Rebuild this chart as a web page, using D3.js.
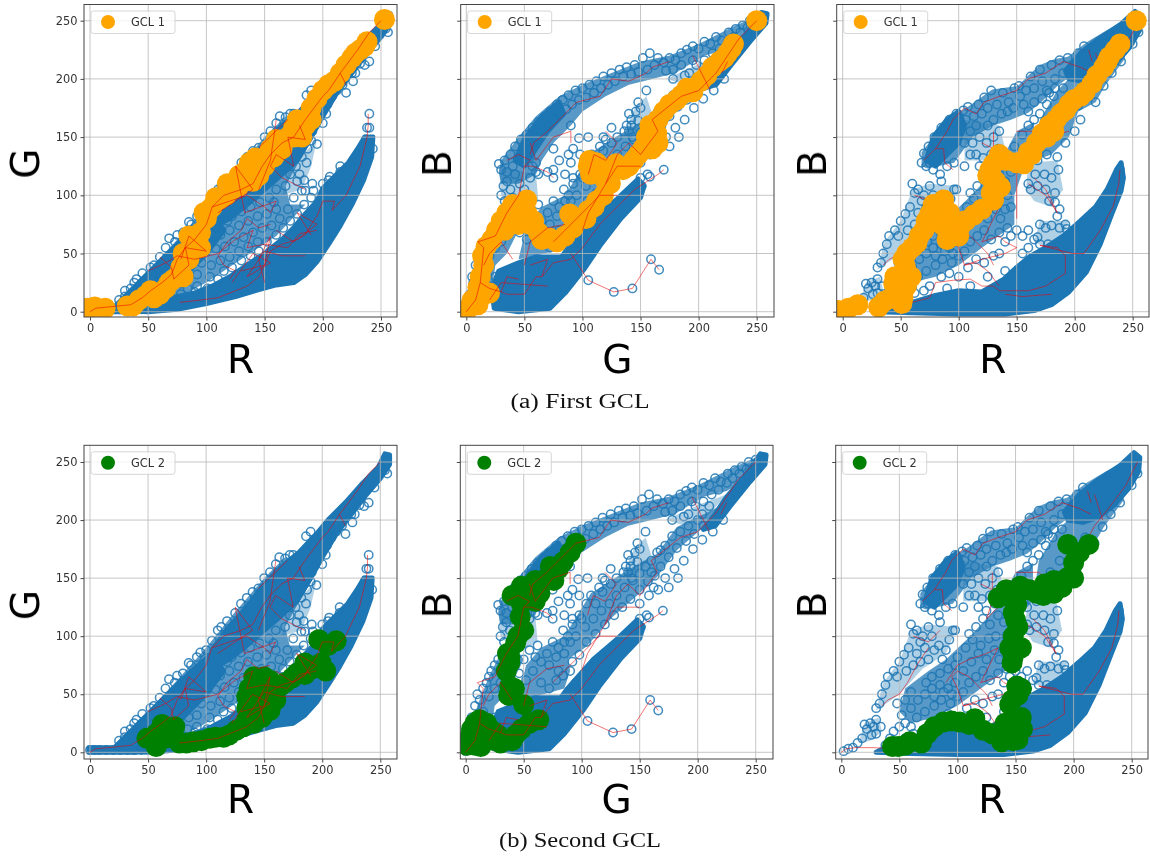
<!DOCTYPE html>
<html><head><meta charset="utf-8">
<script src="https://cdnjs.cloudflare.com/ajax/libs/d3/7.8.5/d3.min.js"></script>
<style>html,body{margin:0;padding:0;background:#fff}svg{display:block}</style></head>
<body><svg id="c" width="1150" height="856"></svg>
<script>
const tickValues=[0,50,100,150,200,250];
const captions=["(a) First GCL","(b) Second GCL"];
const denseRG=[
[[105,88],[120,108],[135,125],[150,145],[165,160],[180,172],[195,188],[205,200],[220,215],[235,232],[248,245],[254,257],[258,256],[258,248],[250,236],[238,222],[225,205],[212,188],[200,168],[190,150],[178,130],[165,118],[150,105],[135,92],[120,80],[105,72]],
[[28,1],[50,0],[75,2],[100,7],[125,13],[145,19],[160,23],[175,25],[185,32],[195,43],[205,58],[215,74],[225,92],[235,113],[242,133],[243,150],[236,150],[230,140],[222,128],[212,118],[200,106],[195,95],[185,84],[175,72],[165,62],[150,50],[135,40],[120,30],[105,22],[90,16],[70,12],[50,10],[30,6]],
[[22,5],[35,18],[50,33],[62,45],[75,58],[90,72],[105,85],[115,70],[100,50],[85,35],[72,22],[70,12],[50,8]],
[[-1,0],[40,0],[40,4],[-1,4]]];
const denseGB=[
[[72,3],[85,16],[101,36],[116,58],[133,80],[150,98],[153,108],[148,114],[130,97],[110,80],[87,54],[82,47],[60,47],[45,42],[28,35],[22,20],[24,3],[45,0]],
[[215,205],[225,220],[240,237],[254,257],[259,256],[258,248],[245,233],[228,212],[215,195],[205,192]],
[[42,130],[50,148],[65,168],[80,180],[84,170],[70,155],[60,140],[50,125]]];
const denseRB=[
[[30,0],[60,-1],[100,-2],[140,-2],[165,1],[180,6],[195,17],[210,34],[222,58],[232,84],[240,104],[242,115],[240,128],[236,122],[228,105],[218,90],[205,78],[190,65],[175,55],[162,48],[150,38],[139,28],[120,17],[100,18],[80,14],[60,8],[40,5]],
[[192,207],[205,222],[220,234],[240,247],[252,258],[257,254],[256,242],[248,228],[235,213],[222,203],[208,198],[195,200]],
[[72,130],[78,150],[90,165],[100,172],[105,160],[100,145],[90,135],[80,125]]];
const meshRG=[
[[25,7],[50,35],[75,62],[100,90],[120,115],[150,150],[168,168],[180,165],[183,135],[168,108],[172,92],[185,92],[160,65],[130,45],[100,25],[75,12],[50,8]]];
const meshGB=[
[[28,120],[30,130],[45,150],[60,168],[80,185],[100,195],[125,205],[150,215],[175,220],[200,230],[230,245],[255,256],[250,240],[225,225],[205,220],[180,205],[160,200],[140,195],[120,185],[100,172],[90,160],[75,145],[65,130],[60,118],[45,110],[30,110]],
[[85,100],[108,137],[130,151],[150,163],[165,171],[182,194],[205,205],[225,215],[216,203],[196,186],[182,174],[165,151],[150,137],[127,117],[104,91],[88,80]],
[[3,10],[10,40],[20,65],[30,85],[40,95],[50,80],[35,50],[25,40],[22,20],[12,3]],
[[45,45],[52,75],[65,90],[85,100],[90,70],[85,55],[60,48]]];
const meshRB=[
[[68,125],[68,137],[79,151],[94,168],[108,176],[122,186],[129,191],[151,194],[160,203],[170,212],[183,217],[194,219],[211,232],[228,242],[249,252],[235,225],[197,203],[185,194],[171,180],[160,171],[145,165],[130,160],[112,150],[96,128],[73,123]],
[[170,165],[185,190],[200,205],[220,225],[245,235],[243,217],[226,194],[218,180],[203,172],[195,150],[180,135],[165,130]],
[[111,100],[134,125],[150,155],[165,163],[165,130],[155,120],[148,100],[148,75],[120,55],[100,40],[80,30],[60,25],[50,35],[55,55],[75,70],[90,80]]];
// sparse parts of the cloud
const lightRG=[[[165,100],[172,125],[183,135],[195,148],[190,125],[182,105]]];
const lightGB=[[[30,100],[28,125],[60,118],[62,95],[45,85]],[[172,200],[205,215],[225,222],[210,205],[190,195]],[[135,150],[145,175],[155,185],[160,170],[150,155]]];
const lightRB=[[[30,36],[36,60],[50,78],[60,105],[75,110],[100,108],[90,85],[70,72],[50,50]],[[105,130],[105,165],[135,160],[140,140],[125,130]],[[158,105],[160,128],[185,130],[190,105],[180,90],[165,95]],[[165,60],[170,78],[195,78],[190,65],[175,55]],[[15,8],[20,25],[32,30],[35,18],[25,10]]];
const ringsRG=[[78,15],[84,20],[90,17],[78,24],[85,30],[92,32],[103,30],[110,28],[115,35],[122,38],[130,44],[138,48],[145,52],[80,38],[88,42],[96,42],[104,40],[112,44],[120,47],[128,52],[136,56],[144,60],[152,60],[160,66],[166,72],[172,78],[178,84],[184,92],[190,98],[100,52],[108,54],[116,56],[124,60],[132,64],[140,68],[148,72],[156,74],[163,80],[170,88],[112,66],[120,70],[128,74],[136,78],[144,82],[152,84],[160,88],[158,94],[175,98],[182,104],[122,82],[130,86],[138,90],[146,94],[154,98],[160,105],[185,104],[191,110],[200,110],[205,113],[215,125],[186,128],[180,118],[178,112],[184,113],[173,128],[195,144],[190,147],[200,162],[204,178],[208,185],[203,170],[220,188],[226,198],[240,215],[236,212],[228,205],[240,170],[240,158],[238,158],[256,240],[254,243],[145,141],[163,168],[172,170],[100,88],[85,77],[87,75],[73,60],[65,55],[60,47],[52,38],[45,33],[38,25],[30,18],[25,10],[40,28],[55,40],[80,68],[92,82],[110,105],[118,113],[130,128],[150,150],[160,162],[175,170],[190,190],[197,170],[193,160],[187,140],[182,133],[170,140],[165,130],[172,118],[168,108],[177,125],[191,155],[200,187],[217,195],[212,190],[225,205],[232,213],[245,228],[0,2],[4,2],[8,2],[14,2],[20,2],[26,2],[32,2],[38,2],[44,2],[30,13],[35,20],[45,25],[68,63],[75,66],[95,86],[105,96],[113,108],[125,120],[135,133],[140,138],[155,155],[168,167],[186,186],[150,122],[142,108],[130,100],[118,92],[108,82],[98,72],[88,62],[78,50],[68,40],[60,30],[240,145],[243,140],[237,148],[236,143],[231,137],[226,130],[215,120],[206,116],[192,104],[100,60],[108,65],[118,78],[92,52],[128,30],[143,42],[155,52],[82,10],[95,12],[76,30],[92,22],[101,20]];
const ringsGB=[[28,127],[30,122],[33,130],[35,120],[38,135],[40,125],[42,142],[45,132],[47,148],[50,140],[52,152],[55,145],[57,158],[60,150],[62,163],[65,155],[68,168],[70,160],[72,172],[75,165],[78,178],[80,170],[83,182],[86,174],[88,186],[91,178],[94,190],[97,182],[100,192],[103,184],[106,195],[110,188],[112,198],[116,192],[118,202],[122,195],[125,205],[128,198],[132,208],[135,202],[138,210],[142,204],[145,212],[148,206],[152,218],[156,208],[158,222],[162,212],[165,218],[170,214],[175,218],[180,216],[185,222],[190,225],[195,228],[200,226],[205,232],[210,230],[215,236],[220,233],[226,240],[232,243],[238,246],[244,250],[250,252],[255,254],[178,208],[185,212],[192,205],[198,212],[188,203],[195,216],[205,216],[200,200],[178,200],[172,207],[212,222],[225,232],[218,226],[230,236],[236,240],[242,244],[30,100],[32,108],[35,112],[38,105],[42,118],[46,110],[50,105],[55,115],[60,120],[57,125],[62,118],[70,120],[75,115],[33,95],[40,98],[44,90],[36,88],[50,80],[55,88],[60,82],[62,92],[65,78],[70,85],[75,95],[72,75],[80,90],[85,85],[88,100],[90,95],[5,30],[8,40],[6,25],[3,15],[10,50],[12,45],[15,55],[18,60],[15,35],[20,65],[22,70],[25,75],[28,80],[12,25],[10,15],[20,48],[25,55],[30,60],[35,70],[40,78],[46,68],[52,62],[58,70],[65,60],[72,55],[78,62],[84,66],[92,78],[98,84],[105,27],[127,17],[143,20],[159,45],[166,36],[170,122],[158,116],[150,115],[147,105],[156,118],[151,108],[140,170],[138,160],[143,150],[150,175],[148,180],[155,190],[146,172],[142,165],[140,155],[88,135],[92,140],[98,135],[80,130],[75,140],[55,135],[60,128],[75,122],[85,118],[92,115],[100,115],[90,128],[97,149],[90,160],[105,150],[115,142],[118,150],[125,158],[120,148],[84,105],[92,110],[98,118],[104,128],[108,135],[112,128],[118,138],[125,145],[130,150],[136,155],[142,160],[148,164],[95,100],[103,108],[110,115],[117,122],[124,128],[130,135],[137,142],[144,148],[150,154],[104,95],[112,102],[120,110],[128,118],[135,125],[142,132],[150,140],[157,147],[163,152],[155,160],[160,165],[165,172],[172,178],[178,186],[185,190],[192,195],[168,160],[175,168],[182,176],[190,182],[197,188],[205,195],[172,150],[180,158],[188,165],[196,175],[204,183],[213,190],[162,142],[175,142],[183,150],[150,128],[158,135],[166,140],[85,95],[78,82],[0,1],[3,3],[6,6],[4,10],[8,8],[12,12],[16,16],[20,22],[25,30],[168,174],[160,155],[204,205],[210,212],[222,200],[95,60],[90,70],[80,70]];
const ringsRB=[[68,128],[70,136],[74,142],[72,125],[79,150],[85,158],[92,165],[98,170],[104,173],[108,176],[113,168],[117,178],[122,184],[128,190],[133,178],[138,188],[143,180],[148,192],[153,185],[152,194],[158,190],[162,202],[165,192],[170,208],[172,198],[176,190],[180,212],[183,200],[187,216],[190,205],[194,218],[198,210],[203,222],[208,228],[213,218],[106,165],[110,155],[115,160],[120,170],[125,175],[130,165],[137,170],[142,172],[147,175],[156,178],[160,172],[165,180],[172,183],[178,188],[183,192],[105,145],[112,145],[118,150],[124,145],[130,150],[135,155],[115,135],[121,132],[128,135],[134,140],[125,160],[110,135],[105,125],[96,128],[90,125],[84,118],[78,122],[75,128],[62,102],[60,110],[65,105],[70,100],[75,108],[78,100],[85,112],[68,95],[72,90],[65,85],[58,90],[50,78],[54,84],[45,70],[40,65],[38,58],[35,50],[33,42],[30,38],[48,65],[56,70],[62,75],[68,78],[75,80],[80,88],[84,92],[87,80],[90,88],[93,97],[96,105],[98,105],[18,12],[22,20],[25,25],[28,22],[30,28],[20,24],[26,15],[30,16],[14,8],[34,22],[48,42],[55,45],[60,52],[52,32],[60,38],[66,45],[72,50],[78,55],[85,58],[92,55],[98,60],[65,30],[72,35],[80,40],[86,45],[94,42],[100,48],[105,52],[75,22],[85,30],[92,33],[100,30],[108,38],[115,45],[122,42],[130,48],[110,60],[116,65],[122,70],[128,62],[135,68],[140,60],[105,70],[112,78],[118,85],[125,80],[132,88],[136,80],[142,72],[100,82],[107,90],[113,97],[120,92],[127,98],[133,100],[110,102],[116,108],[122,115],[128,110],[135,118],[118,125],[125,122],[132,128],[140,112],[145,120],[142,100],[145,90],[140,88],[148,142],[155,152],[160,160],[165,165],[170,170],[176,178],[182,185],[190,192],[157,130],[165,140],[172,148],[180,155],[188,165],[195,175],[203,177],[210,185],[218,180],[225,194],[232,205],[240,215],[250,230],[255,240],[160,125],[168,130],[176,135],[185,133],[192,145],[200,155],[205,165],[160,110],[166,118],[174,118],[180,115],[186,122],[162,105],[168,108],[175,105],[183,102],[183,94],[185,82],[187,88],[178,95],[170,75],[175,72],[180,74],[187,72],[192,75],[193,71],[165,62],[170,58],[168,64],[177,58],[160,70],[155,65],[150,70],[160,55],[155,50],[135,50],[145,65],[125,30],[140,35],[239,122],[237,115],[55,12],[62,16],[70,18],[90,20],[110,22],[125,5],[110,5],[95,3],[2,1],[6,3],[10,4],[55,25],[60,22],[50,22],[45,18],[42,12],[38,6],[73,60],[78,65],[85,68],[92,72],[98,75],[95,50],[88,52],[80,48]];
const pathsRG=[
[[0,0],[5,3],[35,6],[45,12],[52,18],[62,25],[70,32],[75,45],[82,55],[90,62],[100,75],[105,90],[115,100],[130,105],[140,110],[148,125],[155,135],[165,145],[175,150],[185,165],[200,185],[205,190],[215,205],[230,225],[240,240],[250,250]],
[[105,90],[120,95],[135,100],[150,90],[155,85]],
[[77,8],[95,10],[110,12],[125,18],[135,22],[145,30],[150,40],[155,52],[165,58],[178,62],[185,66],[190,75],[195,82],[200,95],[210,95],[208,87],[220,100],[232,125],[238,150],[239,160],[239,170]],
[[50,35],[65,42],[75,48],[90,45],[110,50],[125,62],[140,70],[135,55],[150,58],[170,55],[180,67],[195,70]],
[[120,28],[125,35],[115,40],[110,48],[118,60],[130,70],[135,80],[145,72],[155,75]],
[[155,125],[165,115],[175,110],[185,105]],[[145,141],[170,165]],
[[122,25],[140,50],[155,42],[135,30],[150,52],[165,48],[185,48]],
[[110,85],[125,95],[140,105],[125,125],[133,85],[160,95],[155,85]],
[[60,47],[70,38],[72,28],[85,40],[82,55],[100,52],[85,65],[78,45]],
[[155,125],[160,135],[175,125],[170,150],[185,148],[180,160]],
[[215,205],[220,195]],[[145,105],[155,130],[160,165]],[[150,25],[145,45],[155,65],[150,40],[130,35]],
[[190,66],[178,85],[195,75],[175,60],[160,70]]];
const pathsGB=[
[[0,0],[8,10],[12,25],[20,20],[30,17],[35,15],[50,15],[60,30],[65,30],[75,42],[90,45],[100,55],[115,75],[145,105],[165,118],[170,122]],
[[90,50],[105,27],[127,17],[143,20],[159,45],[166,36]],
[[12,25],[15,55],[10,60],[25,65],[35,85],[45,100],[50,125],[55,130],[45,135],[35,130]],
[[50,125],[57,125],[70,120],[75,115]],
[[55,135],[58,145],[70,155],[80,165],[95,180],[115,185],[125,200],[140,198],[155,205],[160,210],[175,215]],
[[55,145],[60,130],[75,150],[90,155],[90,145]],
[[100,70],[105,85],[120,110],[130,135],[140,145],[150,135],[165,155],[160,165],[185,185],[200,190],[215,205],[235,235],[250,250]],
[[195,220],[210,190]],[[225,215],[220,205]],[[120,110],[130,125],[150,125]],
[[105,118],[110,135],[120,130],[130,145],[120,155]],
[[75,60],[85,70],[100,85],[115,100],[130,100]],[[55,40],[70,45],[65,30]],[[30,17],[35,30],[45,28]],[[20,10],[30,25],[70,22]],
[[40,45],[30,60],[20,50],[15,40]],[[50,40],[55,60],[70,72],[85,75]]];
const pathsRB=[
[[0,0],[4,3],[12,4],[28,4],[45,3],[52,5],[60,8],[75,12],[80,25],[95,27],[110,28],[120,22],[130,22],[135,18],[160,18],[175,22],[192,33],[192,48],[185,55],[170,57],[198,50],[208,50],[222,70],[233,90],[238,110],[239,122]],
[[140,15],[155,13],[180,15]],
[[100,55],[105,40],[115,42],[125,35],[135,22]],
[[70,130],[80,140],[87,140],[88,128],[95,122]],
[[80,140],[90,155],[95,165],[105,175],[115,170],[122,180],[135,185],[150,190],[160,200],[175,205],[190,215],[205,210],[215,205]],
[[255,250],[245,230],[230,210],[218,195],[210,180]],
[[62,100],[75,95],[85,105]],[[75,90],[65,75],[57,60],[50,50],[40,45],[35,40]],
[[90,60],[100,75],[110,80],[125,85],[135,90],[125,70],[120,60],[135,65],[140,60],[150,55],[140,50],[120,45],[105,40]],
[[100,55],[95,65],[100,70],[110,65],[125,50],[130,40]],
[[150,125],[150,80]],[[165,115],[175,105],[185,85],[175,100],[160,110]],
[[130,130],[125,115],[135,125],[145,130],[140,140]],[[120,145],[130,140],[130,155]],
[[150,155],[170,155],[175,150],[195,155]],[[215,215],[212,225]],[[225,200],[218,222]]];
const gcl1RG=[[-2,3],[4,4],[13,3],[32,5],[37,5],[48,14],[55,12],[60,15],[65,20],[72,28],[78,38],[85,45],[88,55],[95,55],[85,65],[95,68],[100,80],[105,90],[112,97],[122,105],[125,112],[133,120],[140,112],[145,117],[148,130],[155,140],[165,140],[170,150],[175,158],[185,160],[190,175],[200,190],[205,195],[215,205],[225,218],[232,225],[238,232],[253,251],[42,10],[52,18],[68,25],[80,30],[80,50],[92,62],[103,88],[98,85],[108,98],[117,100],[128,108],[136,118],[150,125],[158,133],[160,148],[178,165],[182,150],[195,183],[210,198],[220,212],[228,222],[236,228],[128,117],[118,110],[142,132],[137,128],[175,150],[190,165]];
const gcl1GB=[[1,2],[3,4],[10,6],[20,16],[10,21],[12,30],[15,40],[17,56],[26,70],[33,70],[35,85],[45,85],[52,96],[52,85],[55,75],[62,68],[72,63],[85,65],[89,84],[97,80],[105,87],[112,95],[124,110],[106,130],[107,118],[115,125],[129,127],[144,130],[140,125],[148,135],[155,150],[164,153],[165,165],[175,178],[181,182],[195,189],[207,203],[218,215],[225,222],[230,230],[250,250],[5,10],[14,14],[14,48],[22,62],[30,78],[40,92],[48,90],[45,75],[58,78],[65,62],[78,60],[92,72],[103,80],[110,90],[118,100],[120,112],[112,128],[105,125],[120,118],[135,122],[152,140],[158,160],[170,172],[185,186],[190,192],[202,198],[212,210],[222,218],[228,226],[160,140],[165,145],[40,80]];
const gcl1RB=[[253,250],[239,230],[230,219],[225,210],[219,203],[209,189],[199,182],[192,173],[184,165],[182,155],[172,153],[167,145],[156,127],[141,130],[130,127],[125,117],[136,107],[130,96],[113,83],[101,73],[97,67],[90,70],[87,96],[75,84],[70,70],[64,59],[55,50],[54,39],[59,30],[44,24],[51,7],[36,9],[31,4],[13,6],[5,3],[-4,1],[48,16],[235,225],[228,215],[215,196],[205,185],[195,178],[188,170],[178,160],[176,150],[160,137],[150,128],[135,135],[127,122],[132,112],[128,102],[120,88],[106,78],[95,73],[85,75],[92,85],[84,88],[78,92],[72,78],[66,65],[60,55],[52,45],[45,30],[55,22],[52,12],[42,12],[100,65],[105,78],[163,135],[90,62]];
const gcl2RG=[[212,96],[197,97],[199,77],[185,77],[185,67],[174,64],[164,57],[155,62],[141,65],[143,54],[155,36],[141,39],[141,25],[126,19],[115,13],[103,12],[89,9],[77,8],[73,22],[69,18],[57,5],[57,16],[49,12],[149,48],[205,92],[203,70],[192,72],[178,68],[168,60],[150,65],[148,55],[137,55],[135,48],[150,40],[148,30],[135,28],[132,22],[120,15],[108,13],[96,10],[83,8],[65,12],[62,24],[160,45],[135,38]];
const gcl2GB=[[95,180],[84,164],[73,160],[76,148],[64,137],[55,137],[46,136],[48,143],[47,117],[43,94],[38,82],[38,77],[38,57],[37,49],[50,41],[63,28],[43,15],[35,11],[24,18],[12,28],[8,25],[4,14],[8,6],[1,6],[18,12],[90,172],[80,158],[70,150],[60,148],[60,130],[50,130],[40,135],[48,128],[50,105],[45,100],[36,85],[35,70],[42,55],[30,8],[15,22],[13,5],[5,20],[28,15],[48,20],[55,25],[25,10],[10,15],[40,10],[18,25]];
const gcl2RB=[[213,179],[195,179],[200,163],[194,150],[183,148],[183,137],[174,135],[162,140],[154,143],[144,134],[151,127],[150,114],[148,100],[150,88],[147,77],[151,57],[152,49],[145,41],[151,25],[152,11],[138,9],[141,25],[122,19],[115,29],[102,26],[88,26],[74,16],[69,8],[59,9],[49,5],[205,172],[200,150],[190,142],[168,137],[175,145],[150,135],[142,140],[148,120],[155,90],[145,90],[152,108],[148,82],[155,55],[147,45],[142,15],[150,18],[155,30],[130,16],[110,24],[95,27],[80,22],[55,6],[44,5],[145,135],[135,133],[148,10],[156,20]];

const svg=d3.select("#c");
const defs=svg.append("defs");
defs.append("filter").attr("id","soft").attr("x","-5%").attr("y","-5%").attr("width","110%").attr("height","110%")
  .append("feGaussianBlur").attr("stdDeviation",0.55);

const rows=[{top:4.5,bottom:317,y0:311.7,y250:20.7,gcl:[gcl1RG,gcl1GB,gcl1RB],color:"#ffa500",name:"GCL 1",xlab:373},
            {top:445.3,bottom:759,y0:752.3,y250:462,gcl:[gcl2RG,gcl2GB,gcl2RB],color:"#008000",name:"GCL 2",xlab:813}];
const cols=[[{l:84,r:397,x0:90,x250:381},{l:460.7,r:774,x0:466.3,x250:756.7},{l:836.7,r:1149,x0:842.7,x250:1132.7}],
            [{l:84,r:397,x0:90,x250:380.3},{l:460.3,r:773,x0:465.7,x250:755.7},{l:835.7,r:1148,x0:841.3,x250:1131.7}]];
const proj=[{d:denseRG,m:meshRG,li:lightRG,r:ringsRG,p:pathsRG,xl:"R",yl:"G",ylx:25,top:false},
            {d:denseGB,m:meshGB,li:lightGB,r:ringsGB,p:pathsGB,xl:"G",yl:"B",ylx:437,top:false},
            {d:denseRB,m:meshRB,li:lightRB,r:ringsRB,p:pathsRB,xl:"R",yl:"B",ylx:812,top:true}];

rows.forEach((row,ri)=>{proj.forEach((pr,ci)=>{
  const c=cols[ri][ci];
  const ux=(c.x250-c.x0)/250, uy=(row.y0-row.y250)/250;
  const x=d3.scaleLinear().domain([(c.l-c.x0)/ux,(c.r-c.x0)/ux]).range([c.l,c.r]);
  const y=d3.scaleLinear().domain([(row.y0-row.bottom)/uy,(row.y0-row.top)/uy]).range([row.bottom,row.top]);
  const clipId=`clip${ri}${ci}`;
  defs.append("clipPath").attr("id",clipId).append("rect").attr("x",c.l).attr("y",row.top).attr("width",c.r-c.l).attr("height",row.bottom-row.top);
  const g=svg.append("g").attr("filter","url(#soft)");
  const plot=g.append("g").attr("clip-path",`url(#${clipId})`);
  const line=d3.line().x(d=>x(d[0])).y(d=>y(d[1]));
  plot.append("g").selectAll("path").data(pr.li).join("path").attr("d",d=>line(d)+"Z").attr("fill","#1f77b4").attr("fill-opacity",.35);
  plot.append("g").selectAll("path").data(pr.m).join("path").attr("d",d=>line(d)+"Z").attr("fill","#1f77b4").attr("fill-opacity",.75);
  plot.append("g").selectAll("path").data(pr.d).join("path").attr("d",d=>line(d)+"Z").attr("fill","#1f77b4").attr("stroke","#1f77b4").attr("stroke-width",5).attr("stroke-linejoin","round");
  plot.append("g").selectAll("circle").data(pr.r).join("circle").attr("cx",d=>x(d[0])).attr("cy",d=>y(d[1])).attr("r",4.2)
    .attr("fill","none").attr("stroke","#1f77b4").attr("stroke-width",1.5).attr("stroke-opacity",.85);
  const grid=plot.append("g").attr("stroke","#b8b8b8").attr("stroke-width",1).attr("stroke-opacity",.8);
  tickValues.forEach(t=>{
    grid.append("line").attr("x1",x(t)).attr("x2",x(t)).attr("y1",row.top).attr("y2",row.bottom);
    grid.append("line").attr("y1",y(t)).attr("y2",y(t)).attr("x1",c.l).attr("x2",c.r);
  });
  const drawPaths=()=>plot.append("g").selectAll("path").data(pr.p).join("path").attr("d",line).attr("fill","none").attr("stroke","#e8000a").attr("stroke-opacity",.55).attr("stroke-width",1);
  const drawGcl=()=>plot.append("g").selectAll("circle").data(row.gcl[ci]).join("circle").attr("cx",d=>x(d[0])).attr("cy",d=>y(d[1])).attr("r",10.5).attr("fill",row.color);
  if(pr.top){drawPaths();drawGcl();}else{drawGcl();drawPaths();}
  const ax=g.append("g").attr("transform",`translate(0,${row.bottom})`).call(d3.axisBottom(x).tickValues(tickValues).tickSizeOuter(0).tickSize(3.5).tickPadding(3));
  const ay=g.append("g").attr("transform",`translate(${c.l},0)`).call(d3.axisLeft(y).tickValues(tickValues).tickSizeOuter(0).tickSize(3.5).tickPadding(3).tickFormat(ci===0?d3.format("d"):""));
  [ax,ay].forEach(a=>{a.select(".domain").remove();a.selectAll("text").attr("font-family","DejaVu Sans").attr("font-size",11.4).attr("fill","#333");a.selectAll("line").attr("stroke","#333").attr("stroke-width",.9);});
  g.append("rect").attr("x",c.l).attr("y",row.top).attr("width",c.r-c.l).attr("height",row.bottom-row.top).attr("fill","none").attr("stroke","#444").attr("stroke-width",1);
  const lg=g.append("g").attr("transform",`translate(${c.l+7},${row.top+6.5})`);
  lg.append("rect").attr("width",84).attr("height",22.5).attr("rx",2.5).attr("fill","#fff").attr("fill-opacity",.8).attr("stroke","#ccc").attr("stroke-width",.8);
  lg.append("circle").attr("cx",17).attr("cy",11).attr("r",7).attr("fill",row.color);
  lg.append("text").attr("x",40).attr("y",15).attr("font-family","DejaVu Sans").attr("font-size",11.4).attr("fill","#333").text(row.name);
  const mid=(c.l+c.r)/2;
  g.append("text").attr("x",mid).attr("y",row.xlab).attr("text-anchor","middle").attr("font-family","DejaVu Sans").attr("font-size",39).attr("fill","#000").text(pr.xl);
  const ylY=(row.top+row.bottom)/2+3;
  g.append("text").attr("transform",`translate(${pr.ylx+14},${ylY}) rotate(-90)`).attr("text-anchor","middle").attr("font-family","DejaVu Sans").attr("font-size",39).attr("fill","#000").text(pr.yl);
});});
svg.selectAll(".cap").data(captions).join("text").attr("class","cap").attr("x",580).attr("y",(d,i)=>i?847:408)
  .attr("text-anchor","middle").attr("font-family","Liberation Serif").attr("font-size",20).attr("textLength",(d,i)=>i?162:139).attr("lengthAdjust","spacingAndGlyphs").attr("fill","#111").text(d=>d);
</script></body></html>
